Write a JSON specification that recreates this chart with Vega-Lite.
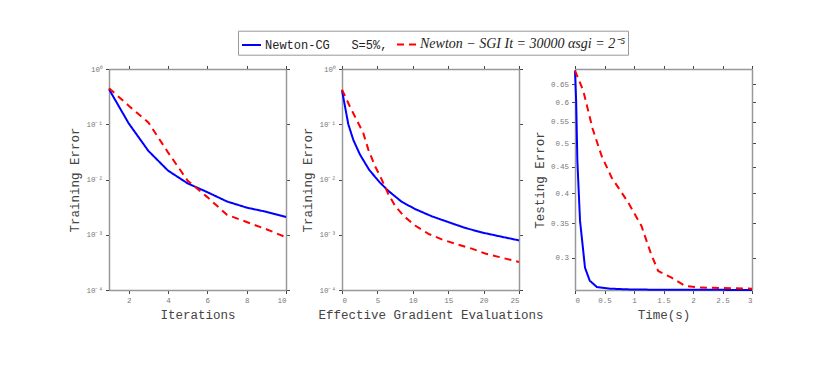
{
  "$schema": "https://vega.github.io/schema/vega-lite/v6.json",
  "background": "white",
  "padding": {"left": 68, "top": 30, "right": 5, "bottom": 5},
  "spacing": 56,
  "bounds": "flush",
  "config": {
    "view": {"stroke": null},
    "axis": {
      "grid": false,
      "labelFont": "Liberation Mono",
      "labelFontSize": 7.5,
      "labelColor": "#777777",
      "titleFont": "Liberation Mono",
      "titleFontSize": 12.5,
      "titleFontWeight": "normal",
      "titleColor": "#444444",
      "titleLimit": 400,
      "domainColor": "#999999",
      "domainWidth": 1.5,
      "tickColor": "#444444",
      "tickWidth": 1,
      "tickSize": 3.5,
      "labelPadding": 3
    },
    "line": {"strokeWidth": 2}
  },
  "datasets": {
    "p1": [
      {"x": 1, "y": 0.43, "s": "cg"}, {"x": 2, "y": 0.104, "s": "cg"}, {"x": 3, "y": 0.033, "s": "cg"},
      {"x": 4, "y": 0.0145, "s": "cg"}, {"x": 5, "y": 0.0085, "s": "cg"}, {"x": 6, "y": 0.0059, "s": "cg"},
      {"x": 7, "y": 0.0040, "s": "cg"}, {"x": 8, "y": 0.0031, "s": "cg"}, {"x": 9, "y": 0.0026, "s": "cg"},
      {"x": 10, "y": 0.0021, "s": "cg"},
      {"x": 1, "y": 0.45, "s": "sgi"}, {"x": 2, "y": 0.217, "s": "sgi"}, {"x": 3, "y": 0.108, "s": "sgi"},
      {"x": 4, "y": 0.031, "s": "sgi"}, {"x": 5, "y": 0.0095, "s": "sgi"}, {"x": 6, "y": 0.0048, "s": "sgi"},
      {"x": 7, "y": 0.0023, "s": "sgi"}, {"x": 8, "y": 0.0017, "s": "sgi"}, {"x": 9, "y": 0.00126, "s": "sgi"},
      {"x": 10, "y": 0.0009, "s": "sgi"}
    ],
    "p2": [
      {"x": 0, "y": 0.412, "s": "cg"}, {"x": 0.89, "y": 0.100, "s": "cg"}, {"x": 1.6, "y": 0.052, "s": "cg"},
      {"x": 2.54, "y": 0.0282, "s": "cg"}, {"x": 3.86, "y": 0.0148, "s": "cg"}, {"x": 5.37, "y": 0.00877, "s": "cg"},
      {"x": 6.55, "y": 0.00622, "s": "cg"}, {"x": 8.43, "y": 0.00395, "s": "cg"}, {"x": 10.32, "y": 0.00292, "s": "cg"},
      {"x": 12.68, "y": 0.00216, "s": "cg"}, {"x": 15.04, "y": 0.00169, "s": "cg"}, {"x": 17.39, "y": 0.00133, "s": "cg"},
      {"x": 19.75, "y": 0.0011, "s": "cg"}, {"x": 22.11, "y": 0.000946, "s": "cg"}, {"x": 25, "y": 0.00079, "s": "cg"},
      {"x": 0, "y": 0.424, "s": "sgi"}, {"x": 1.13, "y": 0.207, "s": "sgi"}, {"x": 2.31, "y": 0.104, "s": "sgi"},
      {"x": 3.01, "y": 0.069, "s": "sgi"}, {"x": 3.72, "y": 0.0347, "s": "sgi"}, {"x": 4.66, "y": 0.01745, "s": "sgi"},
      {"x": 5.6, "y": 0.01007, "s": "sgi"}, {"x": 6.55, "y": 0.00542, "s": "sgi"}, {"x": 7.49, "y": 0.00335, "s": "sgi"},
      {"x": 8.67, "y": 0.00222, "s": "sgi"}, {"x": 10.32, "y": 0.00147, "s": "sgi"}, {"x": 12.21, "y": 0.00104, "s": "sgi"},
      {"x": 14.09, "y": 0.000824, "s": "sgi"}, {"x": 15.98, "y": 0.00069, "s": "sgi"}, {"x": 18.33, "y": 0.000561, "s": "sgi"},
      {"x": 20.22, "y": 0.000457, "s": "sgi"}, {"x": 22.11, "y": 0.000398, "s": "sgi"}, {"x": 25, "y": 0.000322, "s": "sgi"}
    ],
    "p3": [
      {"x": 0, "y": 0.69, "s": "cg"}, {"x": 0.02, "y": 0.6, "s": "cg"}, {"x": 0.04, "y": 0.462, "s": "cg"},
      {"x": 0.085, "y": 0.354, "s": "cg"}, {"x": 0.17, "y": 0.287, "s": "cg"}, {"x": 0.25, "y": 0.271, "s": "cg"},
      {"x": 0.37, "y": 0.2635, "s": "cg"}, {"x": 0.6, "y": 0.2615, "s": "cg"}, {"x": 1.0, "y": 0.2605, "s": "cg"},
      {"x": 2.0, "y": 0.2602, "s": "cg"}, {"x": 3.0, "y": 0.2601, "s": "cg"},
      {"x": 0, "y": 0.69, "s": "sgi"}, {"x": 0.14, "y": 0.631, "s": "sgi"}, {"x": 0.3, "y": 0.532, "s": "sgi"},
      {"x": 0.45, "y": 0.4725, "s": "sgi"}, {"x": 0.62, "y": 0.429, "s": "sgi"}, {"x": 0.9, "y": 0.384, "s": "sgi"},
      {"x": 1.125, "y": 0.346, "s": "sgi"}, {"x": 1.29, "y": 0.305, "s": "sgi"}, {"x": 1.41, "y": 0.283, "s": "sgi"},
      {"x": 1.63, "y": 0.275, "s": "sgi"}, {"x": 1.86, "y": 0.265, "s": "sgi"}, {"x": 2.08, "y": 0.263, "s": "sgi"},
      {"x": 3.0, "y": 0.2615, "s": "sgi"}
    ]
  },
  "hconcat": [
    {
      "width": 177, "height": 221,
      "data": {"name": "p1"},
      "layer": [
        {
          "mark": {"type": "line", "strokeWidth": 2},
          "encoding": {
            "x": {"field": "x", "type": "quantitative", "scale": {"domain": [1, 10], "nice": false},
                  "axis": {"orient": "bottom", "title": "Iterations", "values": [2, 4, 6, 8, 10]}},
            "y": {"field": "y", "type": "quantitative", "scale": {"type": "log", "domain": [0.0001, 1], "nice": false},
                  "axis": {"orient": "left", "title": "Training Error", "values": [0.0001, 0.001, 0.01, 0.1, 1],
                           "labelExpr": "datum.value >= 0.5 ? '10⁰' : datum.value >= 0.05 ? '10⁻¹' : datum.value >= 0.005 ? '10⁻²' : datum.value >= 0.0005 ? '10⁻³' : '10⁻⁴'"}},
            "color": {"field": "s", "type": "nominal", "scale": {"domain": ["cg", "sgi"], "range": ["#0000ff", "#ff0000"]},
                      "legend": {
                        "orient": "none", "legendX": 129, "legendY": -38.3, "direction": "horizontal", "columns": 2,
                        "title": null, "strokeColor": "#999999", "fillColor": "white", "padding": 3,
                        "symbolType": "stroke", "symbolSize": 361, "symbolStrokeWidth": 2,
                        "labelOffset": 3, "columnPadding": 5, "labelLimit": 400, "labelColor": "#222222",
                        "labelFont": {"expr": "datum.value === 'cg' ? 'Liberation Mono' : 'Liberation Serif'"},
                        "labelFontStyle": {"expr": "datum.value === 'cg' ? 'normal' : 'italic'"},
                        "labelFontSize": {"expr": "datum.value === 'cg' ? 12 : 14"},
                        "labelExpr": "datum.value === 'cg' ? 'Newton-CG\u00a0\u00a0\u00a0S=5%,' : 'Newton − SGI It = 30000 αsgi = 2⁻⁵'"
                      }},
            "strokeDash": {"field": "s", "type": "nominal", "scale": {"domain": ["cg", "sgi"], "range": [[1, 0], [7, 5]]}, "legend": null}
          }
        },
        {
          "mark": {"type": "point", "opacity": 0},
          "encoding": {
            "x": {"field": "x", "type": "quantitative", "scale": {"domain": [1, 10], "nice": false},
                  "axis": {"orient": "top", "title": null, "labels": false, "values": [2, 4, 6, 8, 10]}},
            "y": {"field": "y", "type": "quantitative", "scale": {"type": "log", "domain": [0.0001, 1], "nice": false},
                  "axis": {"orient": "right", "title": null, "labels": false, "values": [0.0001, 0.001, 0.01, 0.1, 1]}}
          }
        }
      ],
      "resolve": {"axis": {"x": "independent", "y": "independent"}}
    },
    {
      "width": 177, "height": 221,
      "data": {"name": "p2"},
      "layer": [
        {
          "mark": {"type": "line", "strokeWidth": 2},
          "encoding": {
            "x": {"field": "x", "type": "quantitative", "scale": {"domain": [0, 25], "nice": false},
                  "axis": {"orient": "bottom", "title": "Effective Gradient Evaluations", "values": [0, 5, 10, 15, 20, 25]}},
            "y": {"field": "y", "type": "quantitative", "scale": {"type": "log", "domain": [0.0001, 1], "nice": false},
                  "axis": {"orient": "left", "title": "Training Error", "values": [0.0001, 0.001, 0.01, 0.1, 1],
                           "labelExpr": "datum.value >= 0.5 ? '10⁰' : datum.value >= 0.05 ? '10⁻¹' : datum.value >= 0.005 ? '10⁻²' : datum.value >= 0.0005 ? '10⁻³' : '10⁻⁴'"}},
            "color": {"field": "s", "type": "nominal", "scale": {"domain": ["cg", "sgi"], "range": ["#0000ff", "#ff0000"]}, "legend": null},
            "strokeDash": {"field": "s", "type": "nominal", "scale": {"domain": ["cg", "sgi"], "range": [[1, 0], [7, 5]]}, "legend": null}
          }
        },
        {
          "mark": {"type": "point", "opacity": 0},
          "encoding": {
            "x": {"field": "x", "type": "quantitative", "scale": {"domain": [0, 25], "nice": false},
                  "axis": {"orient": "top", "title": null, "labels": false, "values": [0, 5, 10, 15, 20, 25]}},
            "y": {"field": "y", "type": "quantitative", "scale": {"type": "log", "domain": [0.0001, 1], "nice": false},
                  "axis": {"orient": "right", "title": null, "labels": false, "values": [0.0001, 0.001, 0.01, 0.1, 1]}}
          }
        }
      ],
      "resolve": {"axis": {"x": "independent", "y": "independent"}}
    },
    {
      "width": 177, "height": 221,
      "data": {"name": "p3"},
      "layer": [
        {
          "mark": {"type": "line", "strokeWidth": 2},
          "encoding": {
            "x": {"field": "x", "type": "quantitative", "scale": {"domain": [0, 3], "nice": false},
                  "axis": {"orient": "bottom", "title": "Time(s)", "values": [0, 0.5, 1, 1.5, 2, 2.5, 3], "format": "~g"}},
            "y": {"field": "y", "type": "quantitative", "scale": {"type": "log", "domain": [0.26, 0.695], "nice": false, "zero": false},
                  "axis": {"orient": "left", "title": "Testing Error", "values": [0.3, 0.35, 0.4, 0.45, 0.5, 0.55, 0.6, 0.65], "format": ".2~f"}},
            "color": {"field": "s", "type": "nominal", "scale": {"domain": ["cg", "sgi"], "range": ["#0000ff", "#ff0000"]}, "legend": null},
            "strokeDash": {"field": "s", "type": "nominal", "scale": {"domain": ["cg", "sgi"], "range": [[1, 0], [7, 5]]}, "legend": null}
          }
        },
        {
          "mark": {"type": "point", "opacity": 0},
          "encoding": {
            "x": {"field": "x", "type": "quantitative", "scale": {"domain": [0, 3], "nice": false},
                  "axis": {"orient": "top", "title": null, "labels": false, "values": [0, 0.5, 1, 1.5, 2, 2.5, 3]}},
            "y": {"field": "y", "type": "quantitative", "scale": {"type": "log", "domain": [0.26, 0.695], "nice": false, "zero": false},
                  "axis": {"orient": "right", "title": null, "labels": false, "values": [0.3, 0.35, 0.4, 0.45, 0.5, 0.55, 0.6, 0.65]}}
          }
        }
      ],
      "resolve": {"axis": {"x": "independent", "y": "independent"}}
    }
  ],
  "resolve": {"scale": {"color": "shared", "strokeDash": "shared"}}
}
